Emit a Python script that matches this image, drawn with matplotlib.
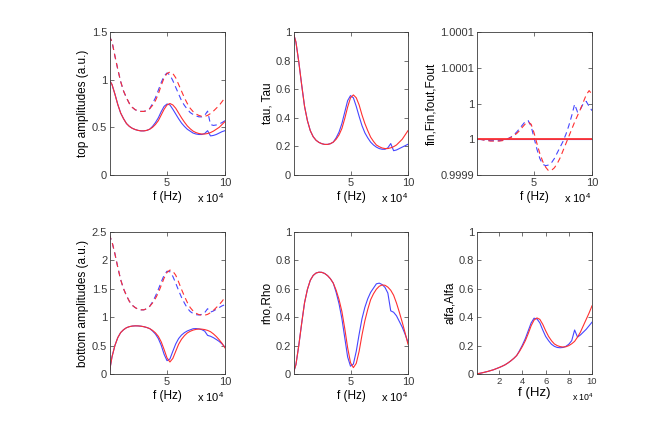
import matplotlib.pyplot as plt
import matplotlib.ticker as mtick
import numpy as np

plt.rcParams['font.family'] = ['Liberation Sans', 'DejaVu Sans']
plt.rcParams['mathtext.default'] = 'regular'

# frequency grid, in units of 10^4 Hz
f = np.linspace(0, 10, 41)
f_fin = f[1:]

# top amplitudes (a.u.)
top_blue_solid = [1.00, 0.95, 0.85, 0.74, 0.65, 0.59, 0.54, 0.51, 0.49, 0.477, 0.468, 0.463, 0.463, 0.468, 0.48,
                  0.51, 0.55, 0.60, 0.665, 0.72, 0.745, 0.735, 0.69, 0.64, 0.59, 0.545, 0.51, 0.48, 0.46, 0.44,
                  0.43, 0.425, 0.425, 0.435, 0.465, 0.41, 0.415, 0.425, 0.44, 0.455, 0.465]
top_red_solid = [1.00, 0.95, 0.85, 0.74, 0.65, 0.59, 0.54, 0.51, 0.49, 0.477, 0.468, 0.463, 0.463, 0.468, 0.48,
                 0.50, 0.53, 0.57, 0.63, 0.69, 0.735, 0.75, 0.735, 0.70, 0.65, 0.60, 0.555, 0.515, 0.485, 0.46,
                 0.445, 0.435, 0.43, 0.43, 0.435, 0.445, 0.46, 0.48, 0.50, 0.53, 0.56]
top_blue_dash = [1.46, 1.40, 1.25, 1.11, 0.98, 0.88, 0.81, 0.75, 0.71, 0.685, 0.672, 0.667, 0.667, 0.675, 0.695,
                 0.75, 0.81, 0.89, 0.97, 1.04, 1.07, 1.05, 0.99, 0.92, 0.85, 0.78, 0.73, 0.69, 0.655, 0.635,
                 0.62, 0.61, 0.61, 0.625, 0.67, 0.53, 0.52, 0.525, 0.535, 0.55, 0.57]
top_red_dash = [1.46, 1.40, 1.25, 1.11, 0.98, 0.88, 0.81, 0.75, 0.71, 0.685, 0.672, 0.667, 0.667, 0.675, 0.695,
                0.73, 0.78, 0.85, 0.94, 1.02, 1.065, 1.08, 1.065, 1.02, 0.95, 0.88, 0.81, 0.75, 0.70, 0.665,
                0.64, 0.625, 0.615, 0.615, 0.625, 0.645, 0.67, 0.70, 0.73, 0.77, 0.81]

# tau, Tau
tau_blue = [1.0, 0.93, 0.79, 0.63, 0.48, 0.38, 0.31, 0.268, 0.243, 0.228, 0.219, 0.214, 0.214, 0.219, 0.23,
            0.26, 0.30, 0.36, 0.44, 0.52, 0.555, 0.54, 0.48, 0.41, 0.345, 0.295, 0.26, 0.23, 0.21, 0.195,
            0.185, 0.18, 0.18, 0.19, 0.22, 0.17, 0.175, 0.185, 0.195, 0.205, 0.215]
tau_red = [1.0, 0.93, 0.79, 0.63, 0.48, 0.38, 0.31, 0.268, 0.243, 0.228, 0.219, 0.214, 0.214, 0.219, 0.23,
           0.25, 0.28, 0.325, 0.395, 0.475, 0.54, 0.56, 0.54, 0.49, 0.42, 0.36, 0.31, 0.265, 0.235, 0.21,
           0.198, 0.189, 0.185, 0.185, 0.19, 0.198, 0.21, 0.23, 0.25, 0.28, 0.31]

# fin,Fin,fout,Fout : deviation from 1 (in units of 1e-5)
fin_blue_dash = [0, -0.05, -0.1, -0.15, -0.2, -0.2, -0.2, -0.2, -0.15, -0.05, 0.1, 0.3, 0.6, 1.0, 1.5, 2.0,
                 2.5, 2.6, 1.8, 0.2, -1.4, -2.7, -3.5, -3.7, -3.6, -3.3, -2.7, -1.9, -1.1, -0.3, 0.7, 1.9,
                 3.3, 4.9, 3.8, 4.2, 5.0, 5.3, 4.6, 4.0]
fin_red_dash = [0, -0.05, -0.15, -0.2, -0.25, -0.25, -0.25, -0.25, -0.2, -0.1, 0.05, 0.25, 0.5, 0.8, 1.2, 1.7,
                2.15, 2.4, 2.1, 0.9, -0.6, -2.0, -3.1, -3.9, -4.4, -4.35, -4.0, -3.4, -2.6, -1.6, -0.6, 0.4,
                1.4, 2.4, 3.3, 4.2, 5.2, 6.2, 6.8, 6.3]
fin_solid = [0] * 41
fin_ticks = [-5, 0, 5, 10, 15]
fin_ticklabels = ['0.9999', '1', '1', '1.0001', '1.0001']

# bottom amplitudes (a.u.)
bot_blue_solid = [0, 0.30, 0.50, 0.64, 0.73, 0.78, 0.815, 0.834, 0.844, 0.848, 0.847, 0.842, 0.833, 0.819, 0.80,
                  0.758, 0.704, 0.624, 0.505, 0.346, 0.235, 0.265, 0.40, 0.529, 0.624, 0.686, 0.728, 0.758, 0.778,
                  0.797, 0.80, 0.794, 0.781, 0.755, 0.68, 0.665, 0.64, 0.608, 0.574, 0.529, 0.474]
bot_red_solid = [0, 0.30, 0.50, 0.64, 0.73, 0.78, 0.815, 0.834, 0.844, 0.848, 0.847, 0.842, 0.833, 0.819, 0.80,
                 0.768, 0.725, 0.663, 0.566, 0.43, 0.283, 0.212, 0.274, 0.40, 0.524, 0.612, 0.675, 0.723, 0.752,
                 0.773, 0.786, 0.792, 0.79, 0.782, 0.768, 0.745, 0.707, 0.66, 0.604, 0.539, 0.46]
bot_blue_dash = [2.46, 2.33, 2.12, 1.88, 1.66, 1.50, 1.38, 1.28, 1.21, 1.17, 1.14, 1.13, 1.13, 1.15, 1.19,
                 1.27, 1.37, 1.49, 1.62, 1.74, 1.81, 1.80, 1.72, 1.60, 1.47, 1.35, 1.25, 1.16, 1.10, 1.065,
                 1.045, 1.04, 1.05, 1.08, 1.15, 1.09, 1.11, 1.14, 1.17, 1.20, 1.22]
bot_red_dash = [2.46, 2.33, 2.12, 1.88, 1.66, 1.50, 1.38, 1.28, 1.21, 1.17, 1.14, 1.13, 1.13, 1.15, 1.19,
                1.25, 1.33, 1.43, 1.56, 1.69, 1.79, 1.83, 1.81, 1.74, 1.62, 1.49, 1.37, 1.26, 1.17, 1.11,
                1.07, 1.045, 1.035, 1.035, 1.05, 1.08, 1.12, 1.17, 1.22, 1.28, 1.35]

# rho, Rho
rho_blue = [0, 0.066, 0.202, 0.357, 0.502, 0.596, 0.66, 0.694, 0.711, 0.717, 0.716, 0.708, 0.693, 0.671, 0.64,
            0.575, 0.495, 0.39, 0.255, 0.12, 0.055, 0.07, 0.16, 0.28, 0.39, 0.47, 0.53, 0.575, 0.605, 0.635,
            0.64, 0.63, 0.61, 0.57, 0.445, 0.435, 0.41, 0.37, 0.33, 0.28, 0.225]
rho_red = [0, 0.066, 0.202, 0.357, 0.502, 0.596, 0.66, 0.694, 0.711, 0.717, 0.716, 0.708, 0.693, 0.671, 0.64,
           0.59, 0.525, 0.44, 0.32, 0.185, 0.08, 0.045, 0.075, 0.16, 0.275, 0.375, 0.455, 0.523, 0.565, 0.597,
           0.618, 0.627, 0.625, 0.612, 0.59, 0.555, 0.5, 0.435, 0.365, 0.29, 0.21]

# alfa, Alfa
alfa_blue = [0, 0.004, 0.008, 0.013, 0.018, 0.024, 0.03, 0.038, 0.046, 0.055, 0.065, 0.078, 0.093, 0.11, 0.13,
             0.165, 0.205, 0.25, 0.305, 0.36, 0.393, 0.388, 0.36, 0.31, 0.265, 0.235, 0.21, 0.195, 0.187, 0.185,
             0.187, 0.195, 0.21, 0.235, 0.31, 0.26, 0.275, 0.295, 0.315, 0.34, 0.365]
alfa_red = [0, 0.004, 0.008, 0.013, 0.018, 0.024, 0.03, 0.038, 0.046, 0.055, 0.065, 0.078, 0.093, 0.11, 0.13,
            0.16, 0.195, 0.235, 0.285, 0.34, 0.38, 0.395, 0.385, 0.35, 0.305, 0.265, 0.235, 0.212, 0.2, 0.193,
            0.19, 0.192, 0.2, 0.213, 0.23, 0.26, 0.295, 0.34, 0.385, 0.43, 0.48]

BLUE = '#4646ff'
RED = '#ff3030'
LW = 0.8
DASH = (5, 3.5)
AXC = '#3a3a3a'

fig = plt.figure(figsize=(6.54, 4.21), dpi=100)
lefts = [0.1682, 0.4495, 0.7294]
widths = [0.1758, 0.1743, 0.1758]
bottoms = [0.5843, 0.1116]
heights = [0.3397, 0.3373]
axes = [[fig.add_axes([lefts[c], bottoms[r], widths[c], heights[r]]) for c in range(3)] for r in range(2)]

fmt = mtick.FuncFormatter(lambda v, p: '%g' % round(v, 6))


def style(ax, ylim, yticks, ylabel, xticks=(5, 10), big=False):
    ax.set_xlim(0.08, 10)
    ax.set_ylim(*ylim)
    ax.set_xticks(xticks)
    ax.set_yticks(yticks)
    ax.xaxis.set_major_formatter(fmt)
    ax.yaxis.set_major_formatter(fmt)
    ax.tick_params(direction='in', top=True, right=True, length=3, width=0.5,
                   labelsize=8, pad=2, colors=AXC)
    if big:
        ax.tick_params(axis='x', labelsize=6.8)
    for s in ax.spines.values():
        s.set_linewidth(0.6)
        s.set_color(AXC)
    ax.set_xlabel('f (Hz)', fontsize=9.5 if big else 8.5, labelpad=1 if big else 2)
    ax.set_ylabel(ylabel, fontsize=8.5, labelpad=2)
    if big:
        ax.text(0.83, -0.165, r'x 10$^4$', transform=ax.transAxes,
                fontsize=6.3, va='center', ha='left')
    else:
        ax.text(0.76, -0.16, r'x 10$^4$', transform=ax.transAxes,
                fontsize=8, va='center', ha='left')


def pair(ax, x, blue, red, dashed=False, red_lw=LW):
    lb, = ax.plot(x, blue, color=BLUE, lw=LW)
    lr, = ax.plot(x, red, color=RED, lw=red_lw)
    if dashed:
        lb.set_dashes(DASH)
        lr.set_dashes(DASH)


ax = axes[0][0]
pair(ax, f, top_blue_dash, top_red_dash, dashed=True)
pair(ax, f, top_blue_solid, top_red_solid)
style(ax, (0, 1.5), [0, 0.5, 1, 1.5], 'top amplitudes (a.u.)')

ax = axes[0][1]
pair(ax, f, tau_blue, tau_red)
style(ax, (0, 1), [0, 0.2, 0.4, 0.6, 0.8, 1], 'tau, Tau')

ax = axes[0][2]
pair(ax, f_fin, fin_blue_dash, fin_red_dash, dashed=True)
pair(ax, f, fin_solid, fin_solid, red_lw=1.3)
style(ax, (-5, 15), fin_ticks, 'fin,Fin,fout,Fout')
ax.set_yticklabels(fin_ticklabels)

ax = axes[1][0]
pair(ax, f, bot_blue_dash, bot_red_dash, dashed=True)
pair(ax, f, bot_blue_solid, bot_red_solid)
style(ax, (0, 2.5), [0, 0.5, 1, 1.5, 2, 2.5], 'bottom amplitudes (a.u.)')

ax = axes[1][1]
pair(ax, f, rho_blue, rho_red)
style(ax, (0, 1), [0, 0.2, 0.4, 0.6, 0.8, 1], 'rho,Rho')

ax = axes[1][2]
pair(ax, f, alfa_blue, alfa_red)
style(ax, (0, 1), [0, 0.2, 0.4, 0.6, 0.8, 1], 'alfa,Alfa', xticks=(2, 4, 6, 8, 10), big=True)

plt.savefig('out.png', dpi=100)
